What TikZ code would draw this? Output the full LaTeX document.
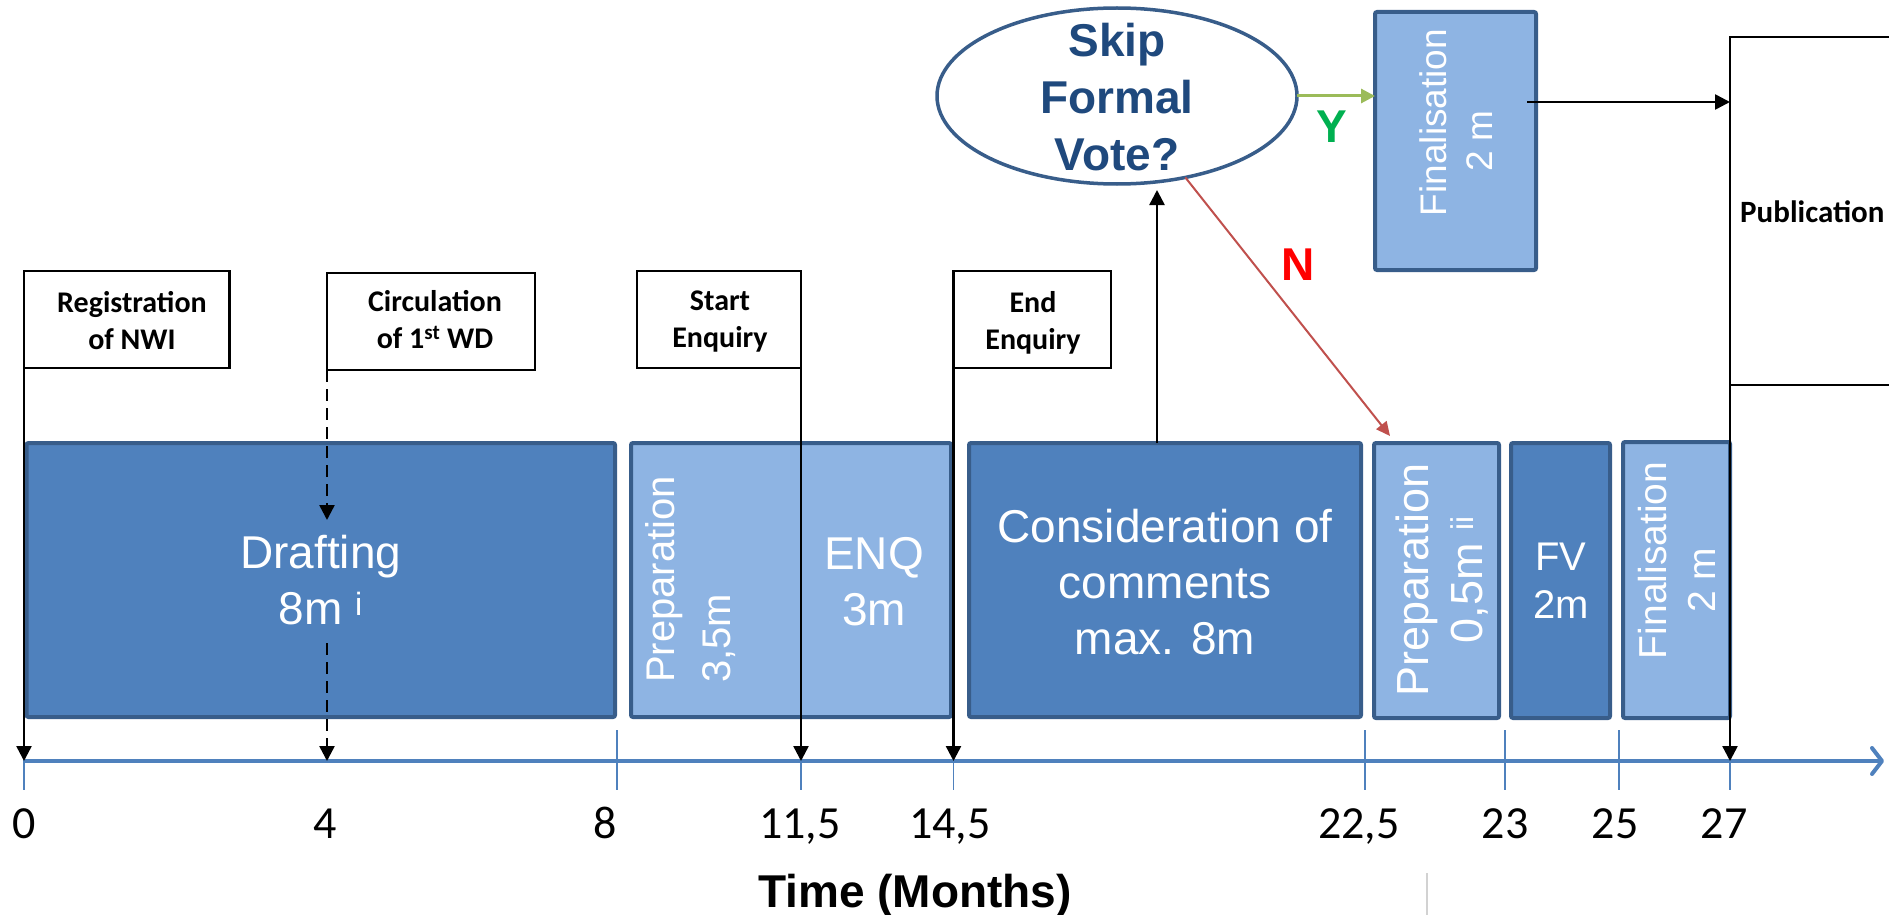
\documentclass[tikz,border=0pt]{standalone}
\usepackage{fontspec}
\setmainfont{Liberation Sans}
\newfontfamily\calib{Carlito}
\usetikzlibrary{arrows.meta,fit,shapes.geometric}
\definecolor{dkfill}{HTML}{4F81BD}
\definecolor{ltfill}{HTML}{8EB4E3}
\definecolor{bord}{HTML}{385D8A}
\definecolor{navy}{HTML}{1F497D}
\definecolor{olivearrow}{HTML}{9BBB59}
\definecolor{ygreen}{HTML}{00B050}
\definecolor{nred}{HTML}{C0504D}
\newcommand{\fs}[2]{\fontsize{#1}{#2}\selectfont}
\begin{document}
\begin{tikzpicture}[x=1pt,y=-1pt,
  phasebox/.style={draw=bord, line width=4pt, rounded corners=2pt, inner sep=0pt, outer sep=0pt},
  labelbox/.style={draw=black, line width=2.5pt, inner sep=0pt, outer sep=0pt},
  wtxt/.style={text=white, inner sep=0pt, align=center},
  lbl/.style={font=\calib\bfseries\fs{30}{37}, align=center, inner sep=0pt, anchor=north},
  conn/.style={draw=black, line width=2.5pt, -{Triangle[length=15pt,width=15pt]}},
  dconn/.style={conn, dash pattern=on 12pt off 7pt},
  tickln/.style={draw=dkfill, line width=1.5pt},
  numlbl/.style={font=\calib\fs{46}{50}, anchor=base, inner sep=0pt},
]
\useasboundingbox (0,0) rectangle (1889,915);
\fill[white] (0,0) rectangle (1889,915);
\clip (0,0) rectangle (1889,915);

% axis coordinates
\coordinate (t0) at (24,761);

% phase boxes
\node[phasebox, fill=dkfill, fit={(26.5,443)(615,717)}] (draft) {};
\node[phasebox, fill=ltfill, fit={(631,443)(951,717)}] (prep1) {};
\node[phasebox, fill=dkfill, fit={(969,443)(1361,717)}] (cons) {};
\node[phasebox, fill=ltfill, fit={(1374,443)(1499,718)}] (prep2) {};
\node[phasebox, fill=dkfill, fit={(1511,443)(1610,718)}] (fv) {};
\node[phasebox, fill=ltfill, fit={(1623,442)(1730,718)}] (fin) {};
\node[phasebox, fill=ltfill, fit={(1375,12)(1536,270)}] (topfin) {};

% label boxes
\node[labelbox, fit={(24,271)(229.5,368)}] (reg) {};
\node[labelbox, fit={(327,273)(535,370)}] (circ) {};
\node[labelbox, fit={(637,271)(801,368)}] (start) {};
\node[labelbox, fit={(953.5,271)(1111,368)}] (end) {};
\node[labelbox, fit={(1730,37)(1960,385)}] (pub) {};

% decision ellipse
\node[ellipse, draw=bord, line width=3.5pt, fill=white, minimum width=360pt, minimum height=176pt, inner sep=0pt, outer sep=0pt] (skip) at (1117,96) {};

% axis
\draw[line width=4pt, dkfill, -{Straight Barb[length=10pt,width=26pt,round]}] (t0) -- (1884,761);
\foreach \x in {24,617,801,953.6,1365,1505,1619,1730}
  \draw[tickln] (\x,730) -- (\x,790);
\foreach \x/\lab [count=\i] in {24/0,325/4,605/8,800/{11,5},950/{14,5},1359/{22,5},1505/23,1615/25,1724/27}
  \node[numlbl] (n\i) at (\x,838) {\lab};
\node[font=\bfseries\fs{46}{50}, anchor=base, inner sep=0pt] (timeT) at (915,907) {Time (Months)};
\draw[gray!35, line width=1.5pt] (1427,873) -- (1427,915);

% connectors
\draw[conn] (reg.south west) -- (reg.south west |- t0);
\coordinate (d1) at (327,520);
\coordinate (d2) at (327,643);
\draw[dconn] (circ.south west) -- (d1);
\draw[dconn] (d2) -- (d2 |- t0);
\draw[conn] (start.south east) -- (start.south east |- t0);
\draw[conn] (end.south west) -- (end.south west |- t0);
\draw[conn] (pub.south west) -- (pub.south west |- t0);
\coordinate (vtip) at (1157,190);
\draw[conn] (cons.north -| vtip) -- (vtip);
\draw[olivearrow, line width=3pt, -{Triangle[length=14pt,width=14pt]}] (skip.east) -- (skip.east -| topfin.west);
\coordinate (ntip) at (1390,436);
\draw[nred, line width=2pt, -{Triangle[length=14pt,width=13pt]}] (skip.-50.6) -- (ntip);
\coordinate (ftail) at (1527,102);
\draw[conn] (ftail) -- (ftail -| pub.west);

% texts
\node[wtxt, font=\fs{46}{56}, anchor=north] (draftT) at (320.7,535) {Drafting\\8m \textsuperscript{i}};
\node[wtxt, font=\fs{40}{56}, rotate=90, anchor=north west, align=left] (prep1T) at (645,683) {Preparation\\3,5m};
\node[wtxt, font=\fs{46}{56}, anchor=north] (enqT) at (874,537) {ENQ\\3m};
\node[wtxt, font=\fs{46}{56}, anchor=north] (consT) at (1165,509) {Consideration of\\comments\\max. 8m};
\node[wtxt, font=\fs{45}{54}, rotate=90, anchor=north] (prep2T) at (1396,580) {Preparation\\0,5m \textsuperscript{ii}};
\node[wtxt, font=\fs{40}{48}, anchor=north] (fvT) at (1561,543) {FV\\2m};
\node[wtxt, font=\fs{39}{49}, rotate=90, anchor=north] (finT) at (1638,580) {\hspace*{1em}Finalisation\\2 m};
\node[wtxt, font=\fs{37}{46}, rotate=90, anchor=north] (topfinT) at (1419,141) {\hspace*{1em}Finalisation\\2 m};
\node[font=\bfseries\fs{46}{57}, text=navy, align=center, inner sep=0pt, anchor=north] (skipT) at (1117,23) {Skip\\Formal\\Vote?};
\node[font=\bfseries\fs{46}{50}, text=ygreen, inner sep=0pt] (Y) at (1332,127) {Y};
\node[font=\bfseries\fs{46}{50}, text=red, inner sep=0pt] (N) at (1298,265) {N};

\node[lbl] (regT) at (132,291) {Registration\\of NWI};
\node[lbl] (circT) at (435,290) {Circulation\\of 1\textsuperscript{st} WD};
\node[lbl] (startT) at (720,291) {Start\\Enquiry};
\node[lbl] (endT) at (1033,291) {End\\Enquiry};
\node[font=\calib\bfseries\fs{31}{37}, anchor=base west, inner sep=0pt] (pubT) at (1740,222) {Publication};
\end{tikzpicture}
\end{document}
